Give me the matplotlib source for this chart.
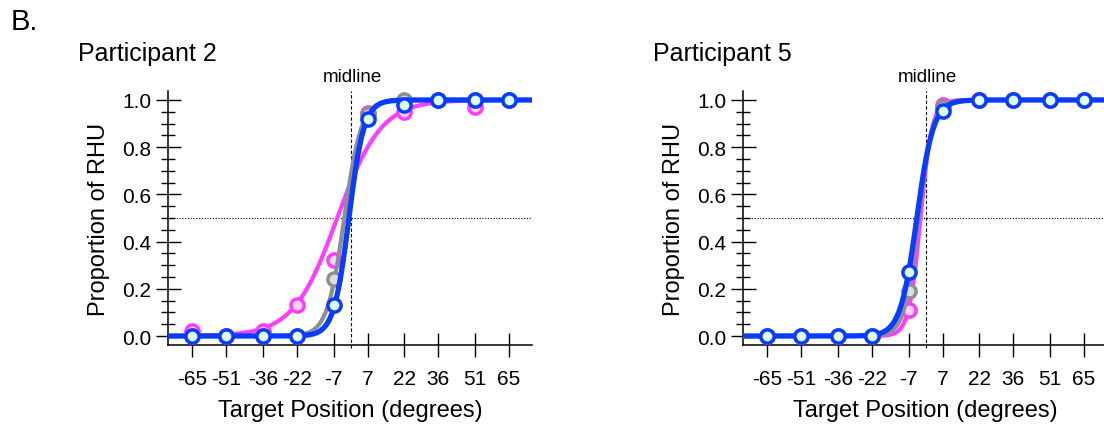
import matplotlib
matplotlib.use("Agg")
import matplotlib.pyplot as plt
import numpy as np
from matplotlib.ticker import MultipleLocator

plt.rcParams["font.family"] = ["Liberation Sans", "DejaVu Sans"]

# target positions (degrees) and tick labels
positions = [-65, -51, -36, -22, -7, 7, 22, 36, 51, 65]
tick_labels = ["-65", "-51", "-36", "-22", "-7", "7", "22", "36", "51", "65"]

# proportion of RHU per condition
p2_pink = [0.02, 0.0, 0.02, 0.13, 0.32, 0.945, 0.95, 1.0, 0.97, 1.0]
p2_gray = [0.0, 0.0, 0.0, 0.0, 0.24, 0.94, 1.0, 1.0, 1.0, 1.0]
p2_blue = [0.0, 0.0, 0.0, 0.0, 0.13, 0.92, 0.98, 1.0, 1.0, 1.0]

p5_pink = [0.0, 0.0, 0.0, 0.0, 0.11, 0.98, 1.0, 1.0, 1.0, 1.0]
p5_gray = [0.0, 0.0, 0.0, 0.0, 0.19, 0.97, 1.0, 1.0, 1.0, 1.0]
p5_blue = [0.0, 0.0, 0.0, 0.0, 0.27, 0.955, 1.0, 1.0, 1.0, 1.0]

# logistic fit parameters (midpoint, scale) estimated from the drawn curves
p2_fits = {"pink": (-5.5, 9.0), "gray": (-2.6, 3.5), "blue": (-0.7, 3.1)}
p5_fits = {"pink": (-2.1, 2.4), "gray": (-2.9, 2.9), "blue": (-3.6, 3.4)}

STYLE = {
    # line colour, marker face, line width
    "pink": ("#ff3cff", "#ffd4f6", 3.0),
    "gray": ("#8e8e8e", "#dedede", 3.0),
    "blue": ("#0a3cff", "#e0ffff", 3.8),
}

XLIM = (-75, 74.5)
YLIM = (-0.038, 1.038)
W, H = 1104, 427


def logistic(x, mu, s):
    return 1.0 / (1.0 + np.exp(-(x - mu) / s))


def draw_panel(ax, series, fits):
    ax.axhline(0.5, color="black", linewidth=0.8, linestyle=(0, (1, 1.5)), zorder=1)
    ax.axvline(0, ymin=-0.01, ymax=1.0, color="black", linewidth=0.8,
               linestyle=(0, (3, 2)), clip_on=False, zorder=1)
    xs = np.linspace(XLIM[0], XLIM[1], 600)
    z = 3
    for name, vals in series:
        col, face, lw = STYLE[name]
        mu, s = fits[name]
        ax.plot(xs, logistic(xs, mu, s), color=col, linewidth=lw, zorder=z,
                solid_capstyle="butt")
        ax.plot(positions, vals, linestyle="none", marker="o", markersize=9.5,
                markerfacecolor=face, markeredgecolor=col, markeredgewidth=2.5,
                zorder=z + 0.5, clip_on=False)
        z += 1

    ax.set_xlim(*XLIM)
    ax.set_ylim(*YLIM)
    ax.set_xticks(positions)
    ax.set_xticklabels(tick_labels)
    ax.set_yticks([0.0, 0.2, 0.4, 0.6, 0.8, 1.0])
    ax.set_yticklabels(["0.0", "0.2", "0.4", "0.6", "0.8", "1.0"])
    ax.yaxis.set_minor_locator(MultipleLocator(0.05))
    for side in ("top", "right"):
        ax.spines[side].set_visible(False)
    for side in ("left", "bottom"):
        ax.spines[side].set_linewidth(1.1)
    ax.tick_params(axis="x", which="major", direction="inout", length=17,
                   width=1.0, labelsize=15, pad=9)
    ax.tick_params(axis="y", which="major", direction="inout", length=18,
                   width=1.0, labelsize=15, pad=3)
    ax.tick_params(axis="y", which="minor", direction="inout", length=9.5,
                   width=1.0)
    ax.set_xlabel("Target Position (degrees)", fontsize=17, labelpad=8)
    ax.set_ylabel("Proportion of RHU", fontsize=17, labelpad=9)
    ax.annotate("midline", xy=(0.6, 1.0), xycoords=("data", "axes fraction"),
                xytext=(0, 14), textcoords="offset pixels", ha="center",
                va="center", fontsize=13.5)


fig = plt.figure(figsize=(W / 100, H / 100), dpi=100)
ax1 = fig.add_axes([168 / W, 81 / H, 364 / W, 254 / H])
ax2 = fig.add_axes([743 / W, 81 / H, 364 / W, 254 / H])

draw_panel(ax1, [("pink", p2_pink), ("gray", p2_gray), ("blue", p2_blue)], p2_fits)
draw_panel(ax2, [("pink", p5_pink), ("gray", p5_gray), ("blue", p5_blue)], p5_fits)

fig.text(11 / W, 1 - 22 / H, "B.", fontsize=21, va="center", ha="left")
fig.text(78 / W, 1 - 54 / H, "Participant 2", fontsize=18, va="center", ha="left")
fig.text(653 / W, 1 - 54 / H, "Participant 5", fontsize=18, va="center", ha="left")

fig.savefig("out.png", dpi=100)
